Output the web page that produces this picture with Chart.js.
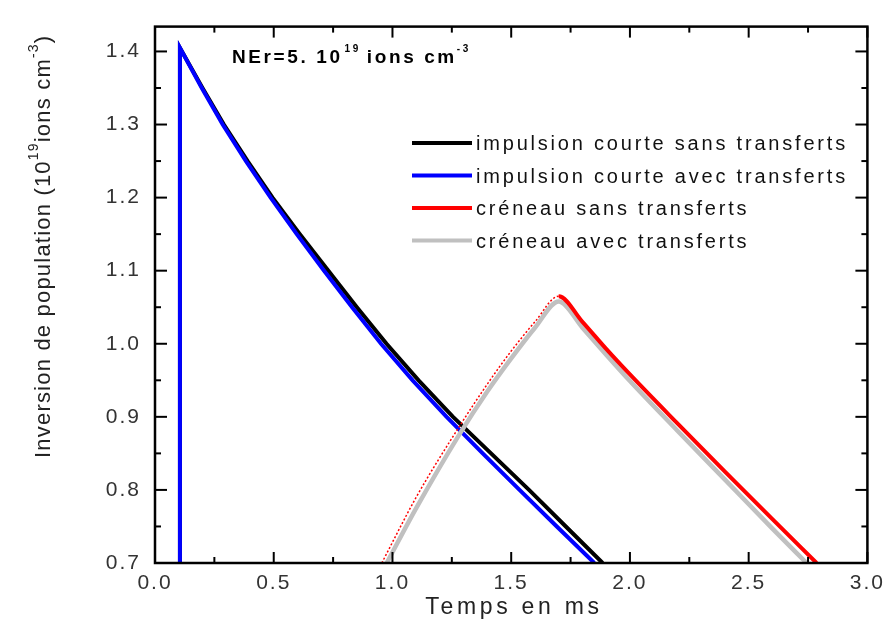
<!DOCTYPE html>
<html>
<head>
<meta charset="utf-8">
<script src="https://cdn.jsdelivr.net/npm/chart.js@4.4.0/dist/chart.umd.min.js"></script>
<style>
  html, body { margin: 0; padding: 0; background: #fff; }
  #chart { display: block; }
</style>
</head>
<body>
<canvas id="chart" width="890" height="623"></canvas>
<script>
// impulsion courte sans transferts
const blackTimes  = [0.105, 0.105, 0.2, 0.29, 0.39, 0.495, 0.61, 0.73, 0.85, 0.975, 1.11, 1.255, 1.415, 1.575, 1.73, 1.885];
const blackValues = [0.70, 1.405, 1.35, 1.30, 1.25, 1.20, 1.15, 1.10, 1.05, 1.00, 0.95, 0.90, 0.85, 0.80, 0.75, 0.70];
// impulsion courte avec transferts
const blueTimes  = [0.105, 0.105, 0.197, 0.285, 0.383, 0.487, 0.597, 0.712, 0.83, 0.952, 1.085, 1.228, 1.38, 1.535, 1.692, 1.85];
const blueValues = [0.70, 1.405, 1.35, 1.30, 1.25, 1.20, 1.15, 1.10, 1.05, 1.00, 0.95, 0.90, 0.85, 0.80, 0.75, 0.70];
// créneau sans transferts
const redTimes  = [0.955, 1.1, 1.28, 1.4, 1.5, 1.6, 1.7, 1.8, 1.9, 2.0, 2.2, 2.4, 2.6, 2.786];
const redValues = [0.70, 0.79, 0.886, 0.945, 0.99, 1.03, 1.065, 1.03, 0.993, 0.958, 0.891, 0.825, 0.76, 0.70];
// créneau avec transferts
const grayTimes  = [0.976, 1.1, 1.28, 1.4, 1.5, 1.6, 1.7, 1.8, 1.9, 2.0, 2.2, 2.4, 2.6, 2.744];
const grayValues = [0.70, 0.775, 0.875, 0.935, 0.98, 1.022, 1.058, 1.022, 0.985, 0.949, 0.881, 0.814, 0.747, 0.70];

const seriesLabels = [
    'impulsion courte sans transferts',
    'impulsion courte avec transferts',
    'créneau sans transferts',
    'créneau avec transferts'
];

const xTickValues = [0.0, 0.5, 1.0, 1.5, 2.0, 2.5, 3.0];
const yTickValues = [0.7, 0.8, 0.9, 1.0, 1.1, 1.2, 1.3, 1.4];
const xMinorTicks = [0.25, 0.75, 1.25, 1.75, 2.25, 2.75];
const yMinorTicks = [0.75, 0.85, 0.95, 1.05, 1.15, 1.25, 1.35];

function toPoints(xs, ys) {
    return xs.map((x, i) => ({ x: x, y: ys[i] }));
}

const FONT = "'Liberation Sans', Arial, sans-serif";

// cadre + graduations vers l'intérieur sur les 4 côtés
const framePlugin = {
    id: 'frame',
    beforeDraw(chart) {
        chart.ctx.letterSpacing = '2px';
    },
    afterDatasetsDraw(chart) {
        const ctx = chart.ctx;
        const a = chart.chartArea;
        const xs = chart.scales.x, ys = chart.scales.y;
        ctx.save();
        ctx.strokeStyle = '#000';
        ctx.lineWidth = 2;
        const tick = (x1, y1, x2, y2) => {
            ctx.beginPath(); ctx.moveTo(x1, y1); ctx.lineTo(x2, y2); ctx.stroke();
        };
        xTickValues.forEach(v => {
            const px = xs.getPixelForValue(v);
            tick(px, a.bottom, px, a.bottom - 11);
            tick(px, a.top, px, a.top + 11);
        });
        xMinorTicks.forEach(v => {
            const px = xs.getPixelForValue(v);
            tick(px, a.bottom, px, a.bottom - 6);
            tick(px, a.top, px, a.top + 6);
        });
        yTickValues.forEach(v => {
            const py = ys.getPixelForValue(v);
            tick(a.left, py, a.left + 12, py);
            tick(a.right, py, a.right - 12, py);
        });
        yMinorTicks.forEach(v => {
            const py = ys.getPixelForValue(v);
            tick(a.left, py, a.left + 6, py);
            tick(a.right, py, a.right - 6, py);
        });
        ctx.lineWidth = 2.5;
        ctx.strokeRect(a.left, a.top, a.right - a.left, a.bottom - a.top);
        ctx.restore();
    }
};

// légende, annotation, titres des axes (avec exposants)
const textPlugin = {
    id: 'texts',
    afterDraw(chart) {
        const ctx = chart.ctx;
        ctx.save();
        ctx.textBaseline = 'alphabetic';
        ctx.textAlign = 'left';

        // légende
        ctx.letterSpacing = '2.8px';
        ctx.font = '20px ' + FONT;
        chart.data.datasets.forEach((ds, i) => {
            const y = 143 + i * 32.5;
            ctx.strokeStyle = ds.borderColor;
            ctx.lineWidth = 4;
            ctx.beginPath(); ctx.moveTo(412, y); ctx.lineTo(472, y); ctx.stroke();
            ctx.fillStyle = '#111';
            ctx.fillText(ds.label, 476, y + 7);
        });

        // annotation NEr
        ctx.fillStyle = '#000';
        ctx.letterSpacing = '2.6px';
        let x = 232;
        const base = 63;
        ctx.font = 'bold 19px ' + FONT;
        ctx.fillText('NEr=5. 10', x, base);
        x += ctx.measureText('NEr=5. 10').width + 2;
        ctx.font = 'bold 10px ' + FONT;
        ctx.fillText('19', x, base - 11);
        x += ctx.measureText('19').width + 6;
        ctx.font = 'bold 19px ' + FONT;
        ctx.fillText('ions cm', x, base);
        x += ctx.measureText('ions cm').width;
        ctx.font = 'bold 10px ' + FONT;
        ctx.fillText('-3', x, base - 11);

        // titre axe x
        ctx.fillStyle = '#222';
        ctx.letterSpacing = '3.7px';
        ctx.font = '23px ' + FONT;
        ctx.textAlign = 'center';
        ctx.fillText('Temps en ms', 514, 614);
        ctx.textAlign = 'left';

        // titre axe y
        ctx.translate(50, 458);
        ctx.rotate(-Math.PI / 2);
        ctx.letterSpacing = '1.2px';
        let t = 0;
        const big = '22px ' + FONT, small = '14px ' + FONT;
        const parts = [
            ['Inversion de population (10', big, 0],
            ['19', small, -12],
            ['ions cm', big, 0],
            ['-3', small, -12],
            [')', big, 0]
        ];
        parts.forEach(p => {
            ctx.font = p[1];
            ctx.fillText(p[0], t, p[2]);
            t += ctx.measureText(p[0]).width;
        });
        ctx.restore();
    }
};

const lineStyle = (color, width, smooth) => ({
    borderColor: color,
    backgroundColor: color,
    borderWidth: width,
    pointRadius: 0,
    fill: false,
    tension: 0,
    cubicInterpolationMode: smooth ? 'monotone' : 'default'
});

const ctx = document.getElementById('chart').getContext('2d');

const myChart = new Chart(ctx, {
    type: 'line',
    data: {
        datasets: [
            Object.assign({ label: seriesLabels[0], data: toPoints(blackTimes, blackValues), order: 4 }, lineStyle('#000000', 4, false)),
            Object.assign({ label: seriesLabels[1], data: toPoints(blueTimes, blueValues), order: 3 }, lineStyle('#0000ff', 4, false)),
            Object.assign({
                label: seriesLabels[2], data: toPoints(redTimes, redValues), order: 1,
                segment: {
                    borderWidth: c => c.p1.parsed.x <= 1.7 ? 1.5 : 4,
                    borderDash: c => c.p1.parsed.x <= 1.7 ? [2, 2] : undefined
                }
            }, lineStyle('#ff0000', 4, true)),
            Object.assign({ label: seriesLabels[3], data: toPoints(grayTimes, grayValues), order: 2 }, lineStyle('#c0c0c0', 4.5, true))
        ]
    },
    options: {
        responsive: false,
        animation: false,
        devicePixelRatio: 1,
        layout: { padding: { left: 0, right: 19, top: 25, bottom: 0 } },
        plugins: {
            legend: { display: false },
            tooltip: { enabled: false }
        },
        scales: {
            x: {
                type: 'linear',
                min: 0,
                max: 3,
                afterBuildTicks: s => { s.ticks = xTickValues.map(v => ({ value: v })); },
                afterFit: s => { s.height = 60; },
                grid: { display: false, drawTicks: false },
                border: { display: false },
                ticks: {
                    padding: 8,
                    color: '#333',
                    font: { family: FONT, size: 21 },
                    maxRotation: 0,
                    autoSkip: false,
                    callback: v => v.toFixed(1)
                }
            },
            y: {
                type: 'linear',
                min: 0.7,
                max: 1.434,
                afterBuildTicks: s => { s.ticks = yTickValues.map(v => ({ value: v })); },
                afterFit: s => { s.width = 155; },
                grid: { display: false, drawTicks: false },
                border: { display: false },
                ticks: {
                    padding: 14,
                    color: '#333',
                    font: { family: FONT, size: 21 },
                    autoSkip: false,
                    callback: v => v.toFixed(1)
                }
            }
        }
    },
    plugins: [framePlugin, textPlugin]
});
</script>
</body>
</html>
